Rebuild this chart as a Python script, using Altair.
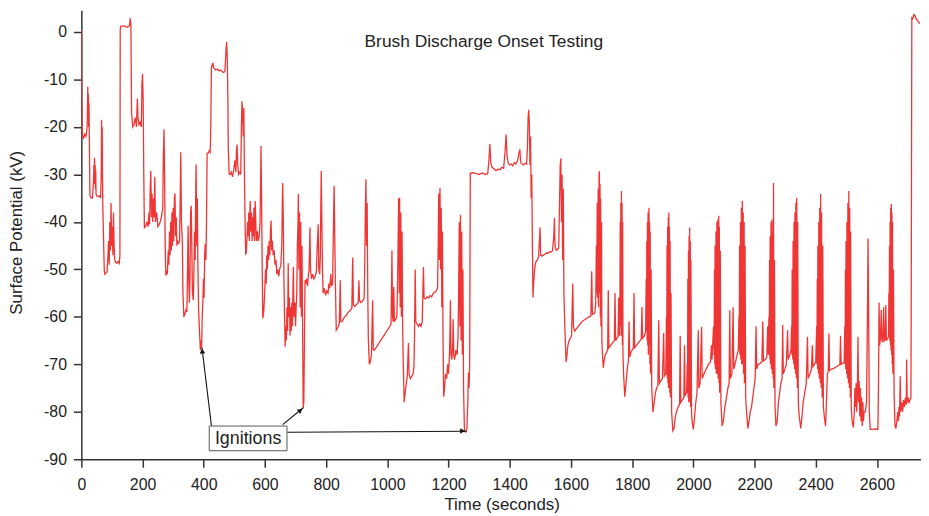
import altair as alt
import pandas as pd

# ---------------- data ----------------
time_s = [
    0, 1, 3, 7, 11, 15, 19, 21, 22, 23, 24, 25, 26, 28, 32, 36, 38, 40, 41, 42,
    43, 44, 45, 46, 47, 48, 50, 55, 60, 63, 65, 66, 67, 68, 69, 70, 72, 75, 77, 80,
    84, 87, 89, 91, 93, 95, 97, 99, 101, 103, 105, 107, 109, 112, 116, 120, 124, 126,
    127, 129, 140, 150, 157, 160, 162, 164, 168, 172, 176, 180, 183, 185, 188, 192, 196, 198,
    200, 202, 204, 206, 210, 214, 218, 221, 223, 225, 227, 229, 231, 233, 236, 238, 240, 242,
    246, 250, 255, 260, 264, 266, 268, 270, 272, 274, 276, 278, 281, 284, 286, 288, 290, 292,
    294, 296, 298, 300, 302, 304, 306, 308, 310, 312, 314, 318, 321, 323, 325, 327, 330, 332,
    335, 338, 342, 345, 347, 349, 351, 353, 355, 357, 359, 361, 363, 366, 368, 370, 372, 374,
    375, 377, 379, 381, 383, 386, 389, 391, 393, 395, 397, 399, 401, 403, 405, 407, 409, 411,
    415, 418, 421, 423, 425, 427, 430, 432, 436, 440, 445, 450, 455, 460, 465, 469, 471, 473,
    475, 477, 479, 480, 483, 486, 490, 494, 498, 502, 505, 507, 509, 511, 514, 518, 521, 523,
    525, 527, 529, 531, 533, 535, 537,
    539, 541, 543, 545, 547, 549, 551, 552, 554, 556, 558, 560, 562, 564, 566, 568, 570, 572,
    575, 578, 581, 584, 586, 587, 589, 591, 593, 596, 599, 602, 604, 606, 608, 610, 612, 614,
    616, 618, 620, 622, 624, 627, 630, 633, 636, 639, 642, 645, 648, 652, 655, 657, 658, 660,
    662, 664, 666, 668, 670, 672, 674, 676, 678, 680, 682, 684, 686, 688, 690, 692, 693, 695,
    698, 700, 702, 704, 706, 708, 709, 711, 713, 715, 717, 719, 721, 723, 725, 727, 729, 731,
    733, 736, 739, 742, 744, 746, 747, 749, 752, 756, 760, 764, 768, 771, 774, 776, 779, 781,
    782, 784, 786, 788, 790, 794, 798, 802, 806, 809, 812, 815, 818, 821, 823, 825, 826, 828,
    830, 833,
    836, 840, 843, 846, 848, 852, 856, 860, 864, 868, 872, 876, 880, 884, 886, 887, 889, 893,
    897, 901, 905, 907, 909, 913, 917, 921, 924, 926, 928, 930, 932, 934, 936, 938, 941, 944,
    948, 950, 952, 954, 958, 963, 968, 973, 978, 983, 988, 993, 998, 1003, 1008, 1012, 1014, 1015,
    1017, 1019, 1021, 1023, 1027, 1031, 1033, 1035, 1037, 1039, 1040, 1042, 1044, 1046, 1048, 1050, 1052, 1055,
    1058, 1062, 1065, 1067, 1069, 1071, 1075, 1080, 1084, 1087, 1089, 1091, 1093, 1097, 1102, 1106, 1110, 1114,
    1116, 1118, 1120, 1125, 1130, 1135, 1140, 1145, 1150, 1155, 1160, 1164, 1166, 1168, 1170, 1172, 1174, 1176,
    1178, 1180, 1182, 1184, 1187, 1190, 1194, 1197, 1200, 1203, 1205, 1206, 1208, 1211, 1214, 1215, 1217, 1220,
    1224, 1228, 1231, 1233, 1235, 1237, 1239, 1241, 1243, 1245, 1247, 1249, 1252, 1256, 1260, 1263, 1265, 1267,
    1269, 1271,
    1274, 1280, 1290, 1300, 1310, 1320, 1328, 1332, 1335, 1338, 1342, 1348, 1355, 1362, 1368, 1374, 1380, 1385,
    1388, 1391, 1395, 1400, 1405, 1410, 1415, 1420, 1426, 1430, 1433, 1436, 1440, 1445, 1450, 1455, 1458, 1460,
    1462, 1464, 1466, 1468, 1470, 1472, 1474, 1476, 1478, 1481, 1485, 1490, 1494, 1497, 1499, 1501, 1505, 1510,
    1515, 1520, 1525, 1530, 1535, 1540, 1544, 1546, 1548, 1552, 1556, 1560, 1563, 1565, 1567, 1569, 1571, 1573,
    1575, 1577, 1580, 1584,
    1587, 1590, 1594, 1598, 1602, 1604, 1606, 1608, 1612, 1618, 1624, 1630, 1636, 1642, 1648, 1654, 1660, 1665,
    1668, 1670, 1674, 1678,
    1681, 1683, 1684, 1686, 1687, 1689, 1690, 1692, 1693, 1694, 1695, 1696, 1697, 1698, 1700, 1701, 1703, 1706,
    1709, 1712, 1716, 1720, 1722, 1724, 1730, 1736, 1742, 1744, 1746, 1750, 1754, 1756, 1758,
    1760, 1761, 1762, 1763, 1764, 1765, 1766, 1767, 1768, 1769, 1770, 1772, 1776,
    1780, 1784, 1788, 1790, 1792, 1796, 1800, 1804, 1806, 1808, 1814, 1820, 1826, 1830, 1832, 1834, 1840, 1844,
    1846, 1847, 1848, 1849, 1850, 1851, 1852, 1853, 1855, 1856, 1857, 1858, 1859, 1860, 1862, 1864, 1868,
    1872, 1876, 1880, 1884, 1887, 1889, 1894, 1899, 1903, 1905, 1910,
    1912, 1913, 1914, 1915, 1916, 1917, 1918, 1919, 1920, 1921, 1922, 1923, 1924, 1925, 1927, 1929, 1933,
    1937, 1941, 1945, 1950, 1955, 1957, 1959, 1964, 1969, 1971, 1973, 1978,
    1980, 1981, 1982, 1983, 1984, 1985, 1986, 1987, 1988, 1989, 1990, 1991, 1992, 1994, 1996, 2000,
    2004, 2008, 2012, 2016, 2018, 2022, 2027, 2029, 2035, 2042, 2050, 2056, 2059, 2061,
    2066, 2068, 2069, 2070, 2071, 2072, 2074, 2075, 2077, 2078, 2080, 2081, 2083, 2084, 2085, 2086, 2088, 2090, 2094,
    2098, 2103, 2108, 2113, 2117, 2119, 2121, 2126, 2130, 2132, 2138, 2143, 2147,
    2149, 2150, 2151, 2152, 2154, 2155, 2157, 2158, 2160, 2161, 2163, 2164, 2166, 2167, 2169, 2171, 2174, 2178,
    2182, 2186, 2190, 2194, 2198, 2202, 2205, 2207, 2212, 2218, 2224, 2227, 2229, 2235, 2240, 2243, 2245,
    2247, 2248, 2249, 2250, 2251, 2252, 2254, 2255, 2257, 2258, 2260, 2261, 2262, 2263, 2265, 2267, 2270,
    2274, 2278, 2282, 2286, 2290, 2292, 2294, 2299, 2304, 2308, 2310, 2315, 2319,
    2321, 2322, 2323, 2325, 2326, 2328, 2329, 2331, 2332, 2334, 2335, 2337, 2338, 2340, 2341, 2343, 2346, 2351,
    2355, 2359, 2364, 2369, 2373, 2375, 2381, 2386, 2389, 2391, 2396, 2400,
    2403, 2404, 2405, 2406, 2407, 2409, 2410, 2412, 2413, 2415, 2416, 2418, 2419, 2421, 2423, 2425, 2428, 2432,
    2435, 2438, 2441, 2443, 2445, 2452, 2460, 2468, 2475, 2479, 2481, 2483, 2488, 2493,
    2495, 2496, 2497, 2498, 2499, 2501, 2502, 2504, 2505, 2507, 2508, 2510, 2511, 2513, 2514, 2516, 2519, 2523,
    2526, 2528, 2530, 2532, 2534, 2536, 2538, 2540, 2542, 2544, 2546, 2548, 2550, 2552, 2554, 2556, 2558,
    2562, 2566, 2569, 2571, 2573, 2575, 2578, 2585, 2595, 2603,
    2605, 2607, 2609, 2612, 2614, 2616, 2619, 2622, 2624, 2627, 2629, 2631, 2635, 2638,
    2639, 2640, 2641, 2642, 2643, 2644, 2645, 2646, 2647, 2648, 2649, 2650, 2651, 2652, 2654, 2656, 2659,
    2662, 2665, 2668, 2670, 2672, 2674, 2676, 2678, 2681, 2684, 2687, 2690, 2693, 2696, 2697, 2699, 2702, 2705,
    2708, 2711, 2712, 2714, 2717, 2721, 2724, 2728, 2734, 2740,
]

surface_kv = [
    0.5, -15, -21.5, -22.5, -21.5, -22, -20, -11.5, -17, -13, -20, -15, -22, -34.5, -35, -35, -33, -31, -28, -32,
    -26.5, -30, -28, -33, -29, -34, -34.5, -34.7, -34.5, -35, -30, -18.5, -26, -20, -30, -36, -42, -50.5, -51, -50.8,
    -50.5, -47, -44, -49, -40, -46, -36, -45, -41, -47, -38, -45, -48, -48.5, -48.7, -48.3, -48.7, -47,
    0.5, 1.2, 1.3, 1.0, 1.3, 2.9, 1.5, -17, -20, -19.5, -18, -20, -14, -18, -19.5, -19, -20, -11,
    -8.8, -14, -30, -41.2, -41, -40, -41, -38, -40.5, -33, -29.3, -39, -34, -40, -35, -39, -30.5, -40,
    -38, -41, -40.5, -39.5, -38, -37, -26, -20.5, -30, -45, -51.3, -50.5, -51, -46, -49, -42, -47, -40,
    -46, -38, -45, -37, -44, -35, -34, -43, -39, -45, -44, -44.5, -44, -35, -25.3, -40, -44, -55,
    -60, -59.5, -58.5, -59, -50, -40.8, -52, -57, -52, -38, -36.6, -45, -55, -56.5, -50, -42, -48, -32,
    -27.9, -45, -35, -50, -58, -63, -67, -65, -66.5, -60, -57, -52, -56, -47, -44.6, -48, -40, -25.5,
    -25.5, -25, -25.3, -20, -7.5, -7.0, -6.5, -7.5, -7.8, -8, -7.8, -8.2, -8, -8.3, -8.5, -8.3, -6, -3.5,
    -2.1, -6, -15, -24, -30, -30, -29.5, -30.5, -29, -27, -29.5, -25, -23.7, -28, -30, -29.5, -30, -20,
    -14.6, -17, -22, -16, -30, -40, -46.7,
    -46.5, -44, -40, -43, -38, -44, -37, -35.6, -42, -38, -44, -39, -43, -37, -44, -35.6, -40, -44,
    -42, -44, -43, -40, -30, -24, -35, -50, -60.3, -59, -55, -50, -53, -47, -50, -45, -48, -44,
    -47, -42, -39.7, -46, -44, -47, -46, -49, -48, -51, -50, -51.5, -50, -49, -45, -35, -31.8, -40,
    -52, -60, -66.3, -62, -65, -58, -63, -48.7, -60, -56, -64, -58, -63, -57, -62, -52, -49.5, -60,
    -57, -62, -58, -55, -45, -40, -34.1, -50, -38, -58, -40, -60, -45, -62, -79.1, -78, -65, -52.3,
    -53, -52, -53.5, -51, -50.5, -45, -41.2, -50, -52, -51, -52, -51.5, -50.5, -45, -40.5, -50, -51, -47,
    -40, -29.3, -40, -50, -55, -54, -55.5, -54.5, -55, -53, -54, -51, -53.5, -53, -45, -36, -32.4, -42,
    -52, -62.8,
    -62.5, -62, -61.5, -52.3, -61, -61, -60.5, -60, -59.8, -59.5, -59, -58.8, -58.5, -58.2, -50, -47.5, -57.5, -57.8,
    -57.5, -57.3, -57, -52.3, -56.5, -57, -56.8, -56.5, -56, -50, -38, -31, -45, -36, -55, -65, -70, -69.5,
    -68, -62, -56.5, -67, -67, -66.5, -66, -65.5, -65, -64.5, -64, -63.5, -63, -62.5, -62, -61.5, -52, -46,
    -60, -61, -53.7, -61, -60.5, -60, -55, -45, -35, -55, -34.9, -58, -38, -60, -42, -62, -70, -78,
    -76, -74, -72.5, -69, -65.5, -72, -73, -72.5, -72, -70.5, -63, -50, -61, -61.5, -62, -61.5, -62, -61,
    -55, -49.5, -56, -56.2, -55.8, -56, -55.5, -55.8, -55, -54.8, -54.5, -54, -46, -34, -48, -32.8, -50, -37,
    -58, -42, -65, -76.8, -75, -72, -73, -70, -72, -68, -62, -56.5, -68, -69, -65, -60.5, -68, -69,
    -67, -68, -64, -55, -40, -62, -38.5, -65, -42, -68, -50, -75, -84.1, -84.3, -83.5, -78, -71.8, -75,
    -70, -29.7,
    -29.8, -29.6, -29.8, -30, -29.7, -30, -29.8, -27, -23.6, -27.5, -28.5, -28.8, -29.2, -28.9, -29, -28.5, -28.7, -25,
    -21.6, -26, -27.6, -28, -27.8, -28.2, -27.5, -27.8, -27, -25.5, -24.7, -27.5, -27.8, -28, -27.6, -27.8, -24, -18,
    -16.4, -19, -28, -22, -35, -30, -45, -55.9, -53, -50, -48.5, -48, -47.5, -44, -41.2, -47, -47.2, -47,
    -46.8, -46.5, -46.6, -46.3, -46.4, -46, -43, -39.1, -45, -46, -45.8, -45.5, -35, -28, -26.6, -40, -30, -48,
    -33, -55, -62, -69.5,
    -68, -66, -65, -64.5, -64, -58, -53, -62, -63, -62.5, -62, -61.5, -61, -60.7, -60.5, -60.2, -60, -59.8,
    -50.4, -59.5, -59.3, -59.2,
    -57, -45, -55, -36, -56, -33, -58, -30, -29.3, -55, -32, -60, -35, -62, -40, -65, -68, -70.7,
    -69, -68, -67.5, -67, -54.4, -66.5, -66, -65.5, -65, -55, -65, -64.5, -64.2, -56, -64,
    -58, -40, -62, -36, -64, -33.5, -60, -36, -66, -40, -68, -72, -76.8,
    -74, -71, -69, -61, -68.5, -67.5, -67, -66.5, -55, -66.5, -66, -65.5, -65, -64.5, -57.9, -64.5, -64, -63,
    -52, -63, -44, -65, -40, -66, -38, -68, -37, -66, -40, -70, -42, -72, -50, -75, -80.1,
    -78, -76, -75, -74.5, -60.7, -74, -73.5, -73, -63.4, -72.5, -72,
    -60, -72, -45, -73, -41, -74, -39, -75, -38, -72, -41, -76, -44, -77, -55, -80, -84,
    -83.5, -81, -80, -79, -78.5, -64, -78, -77.5, -77, -66, -76.5, -76,
    -70, -76, -52, -77, -46, -78, -43, -78, -41.2, -76, -44, -79, -48, -80, -82, -83.7,
    -81, -78, -76, -62.8, -75, -74, -62.1, -73, -72, -71, -70, -69.5, -66, -69,
    -62, -68, -50, -70, -45, -71, -42, -72, -40, -72, -39.5, -73, -38.7, -74, -41, -76, -46, -78, -83,
    -82, -79, -77, -75, -74, -58.6, -73, -72, -58, -71, -69.5, -68, -67,
    -60, -67, -45, -68, -40, -69, -37, -70, -35.6, -70, -38, -72, -40, -74, -45, -77, -80, -83.5,
    -82, -80, -79, -77, -75, -73, -62, -71, -70, -69.8, -69.5, -61, -69.3, -69, -68.5, -62, -68,
    -60, -68, -48, -69, -43, -70, -40, -71, -39.5, -72, -42, -73, -31.8, -75, -48, -79, -83,
    -82, -78, -76, -74, -73, -61.7, -72, -71, -70, -62.8, -69, -68, -67,
    -62, -68, -50, -69, -44, -70, -40, -71, -38, -72, -36, -73, -34.9, -75, -40, -78, -81, -83.5,
    -81, -78, -76, -74, -64.2, -73, -72, -71, -66, -70.5, -70, -69.5,
    -62, -70, -52, -71, -45, -72, -40, -73, -37, -74, -34.1, -75, -38, -77, -45, -79, -81, -83,
    -78, -72, -71.5, -63.5, -71.3, -71, -70.8, -70.5, -70.2, -70, -64, -70, -69.8, -69.5,
    -62, -70, -50, -71, -44, -72, -40, -73, -36, -74, -33.5, -75, -37, -77, -42, -79, -82, -83.3,
    -80, -75, -79, -74, -80, -76, -64.2, -78, -73.5, -81, -75, -82, -77, -83, -78, -82, -80,
    -80, -78, -60, -43.5, -60, -80, -83.7, -83.7, -83.6, -83.7,
    -75, -57, -66, -64, -58.5, -65, -65.2, -58, -65, -64.8, -57.5, -65, -64.5, -64.2,
    -55, -64, -45, -65, -40, -66, -37, -67, -36.2, -68, -38, -70, -40, -72, -50, -76, -83,
    -83.5, -82, -80, -82, -79, -81, -72.5, -80, -78, -80, -77.5, -79, -77, -78.5, -69, -78, -77, -78,
    -77.5, -77, -60, 3.0, 2.8, 3.7, 3.5, 2.8, 2.3, 1.8,
]

x_tick_values = [0, 200, 400, 600, 800, 1000, 1200, 1400, 1600, 1800, 2000, 2200, 2400, 2600]
y_tick_values = [0, -10, -20, -30, -40, -50, -60, -70, -80, -90]

chart_title = "Brush Discharge Onset Testing"
x_title = "Time (seconds)"
y_title = "Surface Potential (kV)"

# call-out box and arrows (in data units)
callout_label = ["Ignitions"]
callout_box_t1 = [418]
callout_box_t2 = [672]
callout_box_v1 = [-83.0]
callout_box_v2 = [-88.2]
callout_text_t = [545]
callout_text_v = [-85.7]
arrow_start_t = [425, 658, 673]
arrow_start_v = [-82.9, -82.7, -84.3]
arrow_end_t = [394, 726, 1259]
arrow_end_v = [-66.4, -79.1, -84.1]
arrow_head_t = [395, 716, 1246]
arrow_head_v = [-67.2, -79.7, -84.05]
arrow_head_angle = [353.5, 51.7, 90]

# ---------------- chart ----------------
FONT = "Liberation Sans"
LINE_RED = "#f03535"
AXIS_COLOR = "#333333"

assert len(time_s) == len(surface_kv), (len(time_s), len(surface_kv))

df = pd.DataFrame({"t": time_s, "v": surface_kv, "i": list(range(len(time_s)))})

x_scale = alt.Scale(domain=[0, 2744], nice=False, zero=False)
y_scale = alt.Scale(domain=[-90, 4.6], nice=False, zero=False)

x_axis = alt.Axis(
    values=x_tick_values, title=x_title, grid=False,
    tickSize=8, tickWidth=1.5, tickColor=AXIS_COLOR,
    domainWidth=1.5, domainColor=AXIS_COLOR,
    labelFont=FONT, labelFontSize=16, labelColor="#222222", labelPadding=9,
    labelFlush=False, labelOverlap=False, labelExpr="'' + datum.value",
    titleFont=FONT, titleFontSize=17, titleFontWeight="normal", titleColor="#222222",
    titleX=424, titleY=46, titleBaseline="middle", titleAlign="center",
)
y_axis = alt.Axis(
    values=y_tick_values, title=y_title, grid=False,
    tickSize=8, tickWidth=1.5, tickColor=AXIS_COLOR,
    domainWidth=1.5, domainColor=AXIS_COLOR,
    labelFont=FONT, labelFontSize=16, labelColor="#222222", labelPadding=7,
    labelFlush=False, labelOverlap=False, labelExpr="'' + datum.value",
    titleFont=FONT, titleFontSize=17, titleFontWeight="normal", titleColor="#222222",
    titleX=-65, titleY=224, titleAngle=270, titleBaseline="middle", titleAlign="center",
)


def xenc(field):
    return alt.X(field, scale=x_scale, axis=x_axis, title=x_title)


def yenc(field):
    return alt.Y(field, scale=y_scale, axis=y_axis, title=y_title)


line = alt.Chart(df).mark_line(color=LINE_RED, strokeWidth=1.3, clip=True).encode(
    x=xenc("t:Q"),
    y=yenc("v:Q"),
    order=alt.Order("i:Q"),
)

arrows_df = pd.DataFrame({
    "t1": arrow_start_t, "v1": arrow_start_v,
    "t2": arrow_end_t, "v2": arrow_end_v,
})
arrows = alt.Chart(arrows_df).mark_rule(color="#111111", strokeWidth=1.1).encode(
    x=xenc("t1:Q"), x2="t2:Q",
    y=yenc("v1:Q"), y2="v2:Q",
)

heads_df = pd.DataFrame({"t": arrow_head_t, "v": arrow_head_v, "a": arrow_head_angle})
heads = alt.Chart(heads_df).mark_point(
    shape="triangle-up", filled=True, size=32, color="#111111", opacity=1
).encode(
    x=xenc("t:Q"),
    y=yenc("v:Q"),
    angle=alt.Angle("a:Q", scale=None),
)

box_df = pd.DataFrame({
    "t1": callout_box_t1, "t2": callout_box_t2,
    "v1": callout_box_v1, "v2": callout_box_v2,
})
box = alt.Chart(box_df).mark_rect(fill="white", stroke="#555555", strokeWidth=1).encode(
    x=xenc("t1:Q"), x2="t2:Q",
    y=yenc("v1:Q"), y2="v2:Q",
)

label_df = pd.DataFrame({"t": callout_text_t, "v": callout_text_v, "label": callout_label})
label = alt.Chart(label_df).mark_text(
    font=FONT, fontSize=18, color="#222222", align="center", baseline="middle"
).encode(
    x=xenc("t:Q"),
    y=yenc("v:Q"),
    text="label:N",
)

title_df = pd.DataFrame({"label": [chart_title]})
title = alt.Chart(title_df).mark_text(
    font=FONT, fontSize=17.5, color="#222222", align="center", baseline="alphabetic"
).encode(
    x=alt.value(406),
    y=alt.value(37),
    text="label:N",
)

chart = (
    alt.layer(line, arrows, heads, box, label, title)
    .properties(
        width=847, height=453,
        autosize=alt.AutoSizeParams(type="none"),
        padding={"left": 74, "top": 0, "right": 0, "bottom": 55},
        background="white",
    )
    .configure_view(stroke=None)
)

chart.save("out.html", embed_options={"renderer": "svg", "actions": False})
